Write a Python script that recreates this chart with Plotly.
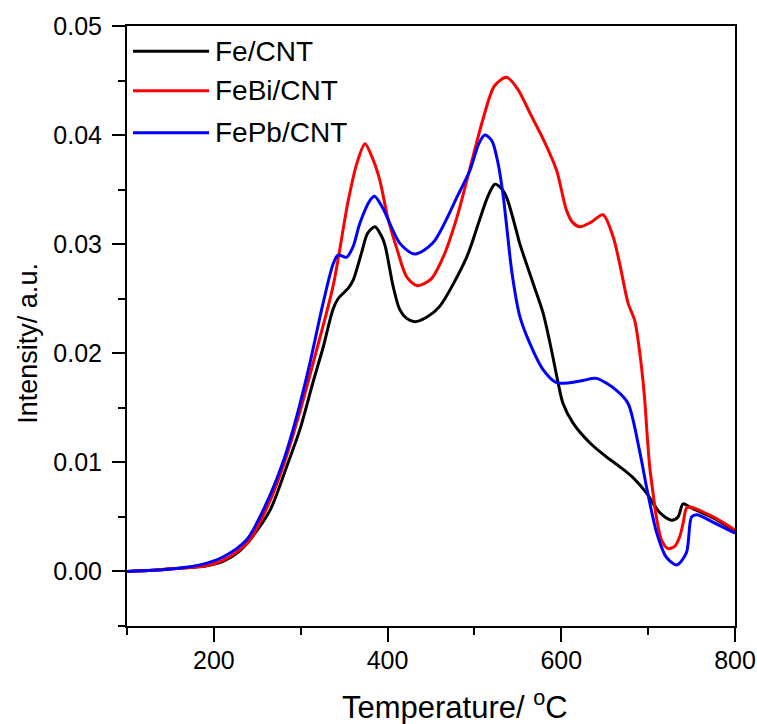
import plotly.graph_objects as go

# ---- data ----
fe_x = [100, 130, 160, 190, 210, 230, 241.5, 264.6, 283.8, 299, 314, 326, 337, 343, 349, 355, 360.4, 370, 377,
        385.4, 392, 397, 406.5, 414, 422, 431, 445, 460, 491, 505, 515, 523.5, 530, 537, 548, 552, 567.6, 579,
        588.7, 596.3, 602, 613.6, 632.8, 652, 667.3, 682.6, 698, 713.3, 726.8, 734.4, 740.2, 747.9, 775, 800]
fe_y = [0.0, 0.0001, 0.0003, 0.0005, 0.0009, 0.0019, 0.0029, 0.0056, 0.0096, 0.0130, 0.0173, 0.0206, 0.0240,
        0.0250, 0.0255, 0.0260, 0.0267, 0.0292, 0.0310, 0.0316, 0.0309, 0.0299, 0.0261, 0.0240, 0.0232, 0.0229,
        0.0233, 0.0243, 0.0288, 0.0320, 0.0343, 0.0355, 0.0352, 0.0343, 0.0313, 0.0301, 0.0264, 0.0237, 0.0203,
        0.0173, 0.0154, 0.0136, 0.0118, 0.0105, 0.0096, 0.0086, 0.0072, 0.0054, 0.0047, 0.0050, 0.0062, 0.0059,
        0.0049, 0.0037]

febi_x = [100, 130, 160, 190, 210, 230, 241, 262, 280, 296, 318.3, 337.4, 354.7, 365, 374, 382, 391, 400, 411,
          422, 434, 450, 465, 480, 495, 510, 523, 537, 550, 564, 580, 594.5, 606, 613, 621.3, 634, 648, 659.6,
          667.3, 676.9, 684.6, 688.4, 692.3, 696.1, 698.7, 701.8, 705.6, 709.5, 715.3, 722.9, 730.6, 736.4, 740.2,
          744.1, 747.9, 775, 800]
febi_y = [0.0, 0.0001, 0.0003, 0.0005, 0.0010, 0.0020, 0.0028, 0.0060, 0.0097, 0.0138, 0.0203, 0.0262, 0.0340,
          0.0375, 0.0392, 0.0380, 0.0359, 0.0325, 0.0295, 0.0270, 0.0262, 0.0268, 0.0290, 0.0325, 0.0370, 0.0415,
          0.0445, 0.0453, 0.0442, 0.0420, 0.0395, 0.0368, 0.0331, 0.0320, 0.0316, 0.0320, 0.0327, 0.0307, 0.0282,
          0.0246, 0.0230, 0.0212, 0.0188, 0.0157, 0.0127, 0.0096, 0.0072, 0.0050, 0.0029, 0.0021, 0.0023, 0.0032,
          0.0044, 0.0058, 0.0059, 0.0050, 0.0038]

fepb_x = [100, 130, 160, 184, 210, 237.7, 260.8, 279.5, 295.3, 310.6, 325.5, 337.4, 343, 352.8, 360.4, 368, 379.6,
          385, 394.6, 414, 431, 452, 481, 495, 505, 512, 520, 527, 533, 538, 543, 552.2, 563.8, 579, 594.5, 609.8,
          625, 640.5, 663.5, 676.9, 690, 699.5, 710, 721, 733, 744, 750, 756, 775, 800]
fepb_y = [0.0, 0.0001, 0.0003, 0.0006, 0.0013, 0.0029, 0.0063, 0.0100, 0.0142, 0.0191, 0.0245, 0.0282, 0.0290,
          0.0288, 0.0298, 0.0319, 0.0340, 0.0344, 0.0333, 0.0301, 0.0291, 0.0301, 0.0345, 0.0368, 0.0392, 0.0400,
          0.0395, 0.0375, 0.0345, 0.0310, 0.0275, 0.0234, 0.0209, 0.0185, 0.0173, 0.0173, 0.0175, 0.0177, 0.0166,
          0.0154, 0.0111, 0.0072, 0.0035, 0.0013, 0.0006, 0.0017, 0.0050, 0.0052, 0.0045, 0.0035]

series_names = ["Fe/CNT", "FeBi/CNT", "FePb/CNT"]
series_colors = ["#000000", "#FF0000", "#0000FF"]
x_title = "Temperature/ <sup>o</sup>C"
y_title = "Intensity/ a.u."
x_tickvals = [200, 400, 600, 800]
y_tickvals = [0.00, 0.01, 0.02, 0.03, 0.04, 0.05]

FONT = "Liberation Sans, Arial, sans-serif"

fig = go.Figure()
for xs, ys, name, col in zip([fe_x, febi_x, fepb_x], [fe_y, febi_y, fepb_y], series_names, series_colors):
    fig.add_trace(go.Scatter(x=xs, y=ys, mode="lines", name=name,
                             line=dict(color=col, width=3, shape="spline", smoothing=0.8),
                             showlegend=False))

# manual legend (long line samples as in the reference)
leg_rows = [0.958, 0.892, 0.822]
for name, col, yy in zip(series_names, series_colors, leg_rows):
    fig.add_shape(type="line", xref="paper", yref="paper", x0=0.0099, x1=0.135, y0=yy, y1=yy,
                  line=dict(color=col, width=3))
    fig.add_annotation(xref="paper", yref="paper", x=0.142, y=yy, text=name, showarrow=False,
                       xanchor="left", yanchor="middle", font=dict(family=FONT, size=28, color="black"))

fig.add_annotation(xref="paper", yref="paper", x=0.539, y=-0.131, text=x_title, showarrow=False,
                   xanchor="center", yanchor="middle", font=dict(family=FONT, size=31, color="black"))
fig.add_annotation(xref="paper", yref="paper", x=-0.163, y=0.472, text=y_title, showarrow=False,
                   textangle=-90, xanchor="center", yanchor="middle",
                   font=dict(family=FONT, size=27, color="black"))

axis_common = dict(showline=True, linecolor="black", linewidth=2, mirror=True, showgrid=False,
                   zeroline=False, ticks="outside", tickwidth=2, tickcolor="black",
                   tickfont=dict(family=FONT, size=25, color="black"))

fig.update_xaxes(range=[100, 800], tickvals=x_tickvals, ticklen=14, ticklabelstandoff=-3,
                 minor=dict(dtick=100, tick0=0, ticks="outside", ticklen=7, tickwidth=2, tickcolor="black"),
                 **axis_common)
fig.update_yaxes(range=[-0.005, 0.05], tickvals=y_tickvals, tickformat=".2f", ticklen=13,
                 ticklabelstandoff=5,
                 minor=dict(dtick=0.005, tick0=0, ticks="outside", ticklen=7, tickwidth=2, tickcolor="black"),
                 **axis_common)

fig.update_layout(width=757, height=724, margin=dict(l=127, r=22, t=26, b=98, autoexpand=False),
                  plot_bgcolor="white", paper_bgcolor="white", font=dict(family=FONT, color="black"))

fig.write_html("out.html", config={"displayModeBar": False},
               post_script="document.body.style.margin='0';")
